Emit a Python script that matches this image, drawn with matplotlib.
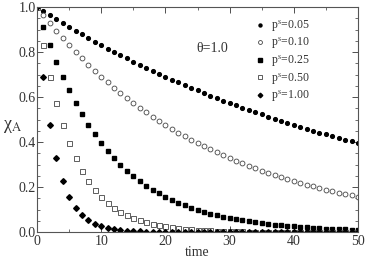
import matplotlib
matplotlib.use("Agg")
import matplotlib.pyplot as plt
from matplotlib.ticker import MultipleLocator, FormatStrFormatter

plt.rcParams['font.family'] = ['Liberation Serif', 'DejaVu Serif']
plt.rcParams['mathtext.fontset'] = 'stix'

time = list(range(51))

p005 = [1.000, 0.9816, 0.9636, 0.9458, 0.9285, 0.9114, 0.8946, 0.8782, 0.8620, 0.8462,
        0.8306, 0.8154, 0.8004, 0.7857, 0.7712, 0.7571, 0.7432, 0.7295, 0.7161, 0.7030,
        0.6900, 0.6773, 0.6649, 0.6527, 0.6407, 0.6289, 0.6173, 0.6060, 0.5949, 0.5839,
        0.5732, 0.5627, 0.5523, 0.5422, 0.5322, 0.5224, 0.5128, 0.5034, 0.4941, 0.4851,
        0.4761, 0.4674, 0.4588, 0.4504, 0.4421, 0.4340, 0.4260, 0.4182, 0.4105, 0.4029,
        0.3955]
p010 = [1.000, 0.9636, 0.9285, 0.8946, 0.8620, 0.8306, 0.8004, 0.7712, 0.7432, 0.7161,
        0.6900, 0.6649, 0.6407, 0.6173, 0.5949, 0.5732, 0.5523, 0.5322, 0.5128, 0.4941,
        0.4761, 0.4588, 0.4421, 0.4260, 0.4105, 0.3955, 0.3811, 0.3672, 0.3539, 0.3410,
        0.3285, 0.3166, 0.3050, 0.2939, 0.2832, 0.2729, 0.2630, 0.2534, 0.2442, 0.2353,
        0.2267, 0.2184, 0.2105, 0.2028, 0.1954, 0.1883, 0.1815, 0.1749, 0.1685, 0.1624,
        0.1564]
p025 = [1.000, 0.9114, 0.8306, 0.7571, 0.6900, 0.6289, 0.5732, 0.5224, 0.4761, 0.4340,
        0.3955, 0.3605, 0.3285, 0.2994, 0.2729, 0.2487, 0.2267, 0.2066, 0.1883, 0.1716,
        0.1564, 0.1426, 0.1299, 0.1184, 0.1079, 0.0984, 0.0897, 0.0817, 0.0745, 0.0679,
        0.0619, 0.0564, 0.0514, 0.0468, 0.0427, 0.0389, 0.0355, 0.0323, 0.0295, 0.0268,
        0.0245, 0.0223, 0.0203, 0.0185, 0.0169, 0.0154, 0.0140, 0.0128, 0.0117, 0.0106,
        0.0097]
p050 = [1.000, 0.8306, 0.6900, 0.5732, 0.4761, 0.3955, 0.3285, 0.2729, 0.2267, 0.1883,
        0.1564, 0.1299, 0.1079, 0.0897, 0.0745, 0.0619, 0.0514, 0.0427, 0.0355, 0.0295,
        0.0245, 0.0203, 0.0169, 0.0140, 0.0117, 0.0097, 0.0081, 0.0067, 0.0056, 0.0046,
        0.0038, 0.0032, 0.0027, 0.0022, 0.0018, 0.0015, 0.0013, 0.0010, 0.0009, 0.0007,
        0.0006, 0.0005, 0.0004, 0.0003, 0.0003, 0.0002, 0.0002, 0.0002, 0.0001, 0.0001,
        0.0001]
p100 = [1.000, 0.6900, 0.4761, 0.3285, 0.2267, 0.1564, 0.1079, 0.0745, 0.0514, 0.0355,
        0.0245, 0.0169, 0.0117, 0.0081, 0.0056, 0.0038, 0.0027, 0.0018, 0.0013, 0.0009,
        0.0006, 0.0004, 0.0003, 0.0002, 0.0001, 0.0001, 0.0, 0.0, 0.0, 0.0,
        0.0, 0.0, 0.0, 0.0, 0.0, 0.0, 0.0, 0.0, 0.0, 0.0,
        0.0, 0.0, 0.0, 0.0, 0.0, 0.0, 0.0, 0.0, 0.0, 0.0,
        0.0]

labels = [r'p$^{\rm s}$=0.05', r'p$^{\rm s}$=0.10', r'p$^{\rm s}$=0.25',
          r'p$^{\rm s}$=0.50', r'p$^{\rm s}$=1.00']

fig = plt.figure(figsize=(3.68, 2.62), dpi=100)
ax = fig.add_axes([37/368, 30/262, 321/368, 225/262])

ax.plot(time, p005, ls='none', marker='o', ms=2.7, color='black', mec='black', label=labels[0])
ax.plot(time, p010, ls='none', marker='o', ms=3.5, mfc='white', mec='#444444', mew=0.6, label=labels[1])
ax.plot(time, p025, ls='none', marker='s', ms=3.3, color='black', mec='black', label=labels[2])
ax.plot(time, p050, ls='none', marker='s', ms=3.6, mfc='white', mec='#444444', mew=0.6, label=labels[3])
ax.plot(time, p100, ls='none', marker='D', ms=2.9, color='black', mec='black', label=labels[4])

ax.set_xlim(0, 50)
ax.set_ylim(0, 1.0)
ax.xaxis.set_major_locator(MultipleLocator(10))
ax.xaxis.set_minor_locator(MultipleLocator(5))
ax.yaxis.set_major_locator(MultipleLocator(0.2))
ax.yaxis.set_minor_locator(MultipleLocator(0.05))
ax.yaxis.set_major_formatter(FormatStrFormatter('%.1f'))
ax.tick_params(which='both', direction='in', top=True, right=True, labelsize=10,
               colors='#333333', pad=1)
ax.tick_params(axis='x', pad=2)
ax.tick_params(which='major', length=4, width=0.6)
ax.tick_params(which='minor', length=2, width=0.5)
for s in ax.spines.values():
    s.set_color('#555555')
    s.set_linewidth(0.8)

ax.set_xlabel('time', fontsize=10, color='#333333', labelpad=-1)
ax.set_ylabel('χ$_{\\rm A}$', fontsize=13, rotation=0, color='#333333')
ax.yaxis.set_label_coords(-0.075, 0.43)

ax.text(24.9, 0.815, 'θ=1.0', fontsize=10, color='#333333', va='center', ha='left')

ax.legend(loc='upper left', bbox_to_anchor=(0.66, 0.985), frameon=False, fontsize=8.5,
          handlelength=0.5, handletextpad=0.7, labelspacing=0.2, borderpad=0.2,
          markerscale=0.8, labelcolor='#333333')

fig.savefig('out.png', dpi=100)
